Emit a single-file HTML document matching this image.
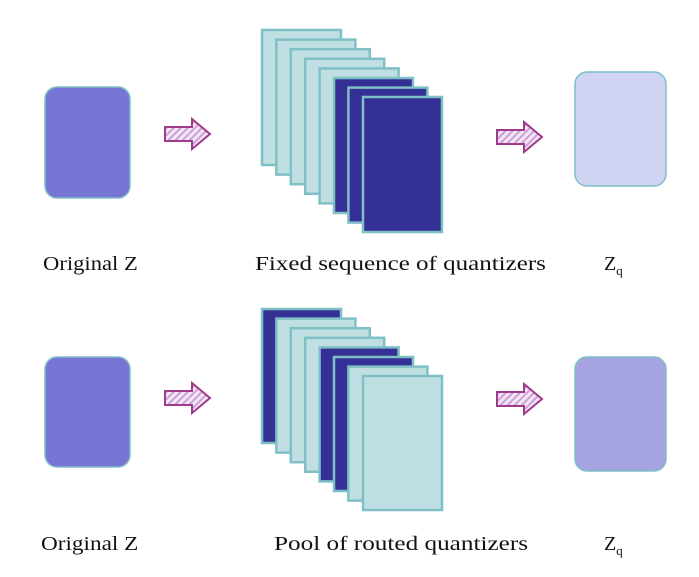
<!DOCTYPE html><html><head><style>
body{margin:0;background:#fff;width:699px;height:577px;overflow:hidden;position:relative;font-family:"Liberation Serif",serif;}
.t{position:absolute;font-size:20px;color:#111;white-space:nowrap;transform-origin:0 50%}
</style></head><body>
<svg width="699" height="577" style="position:absolute;left:0;top:0">
<defs><pattern id="h" width="5" height="5" patternUnits="userSpaceOnUse" patternTransform="rotate(45)"><rect width="5" height="5" fill="#f4e6f4"/><rect width="2" height="5" fill="#c9a0d8"/></pattern>
<g id="ar"><polygon points="0,6 27,6 27,-2 45,13 27,28 27,20 0,20" fill="url(#h)" stroke="#a03a8a" stroke-width="2"/></g></defs>
<rect x="45" y="87" width="85" height="111" rx="12" fill="#7775d3" stroke="#7fbfc6" stroke-width="1.5"/>
<rect x="45" y="357" width="85" height="110" rx="12" fill="#7775d3" stroke="#7fbfc6" stroke-width="1.5"/>
<rect x="575" y="72" width="91" height="114" rx="12" fill="#d1d3f2" stroke="#7fbfc6" stroke-width="1.5"/>
<rect x="575" y="357" width="91" height="114" rx="12" fill="#a5a3e1" stroke="#7fbfc6" stroke-width="1.5"/>
<use href="#ar" x="165" y="121"/><use href="#ar" x="497" y="124"/>
<use href="#ar" x="165" y="385"/><use href="#ar" x="497" y="386"/>
<g stroke="#7fbfc6" stroke-width="2.5">
<rect x="262" y="30" width="79" height="135" fill="#c0dfe2"/>
<rect x="276.4" y="39.6" width="79" height="135" fill="#c0dfe2"/>
<rect x="290.8" y="49.2" width="79" height="135" fill="#c0dfe2"/>
<rect x="305.2" y="58.8" width="79" height="135" fill="#c0dfe2"/>
<rect x="319.6" y="68.4" width="79" height="135" fill="#c0dfe2"/>
<rect x="334" y="78" width="79" height="135" fill="#353096"/>
<rect x="348.4" y="87.6" width="79" height="135" fill="#353096"/>
<rect x="363" y="97" width="79" height="135" fill="#353096"/>
<rect x="262" y="309" width="79" height="134" fill="#353096"/>
<rect x="276.4" y="318.6" width="79" height="134" fill="#c0dfe2"/>
<rect x="290.8" y="328.2" width="79" height="134" fill="#c0dfe2"/>
<rect x="305.2" y="337.8" width="79" height="134" fill="#c0dfe2"/>
<rect x="319.6" y="347.4" width="79" height="134" fill="#353096"/>
<rect x="334" y="357" width="79" height="134" fill="#353096"/>
<rect x="348.4" y="366.6" width="79" height="134" fill="#c0dfe2"/>
<rect x="363" y="376" width="79" height="134" fill="#c0dfe2"/>
</g></svg>
<div class="t" style="left:43px;top:253px;transform:scaleX(1.13)">Original Z</div>
<div class="t" style="left:255px;top:253px;transform:scaleX(1.25)">Fixed sequence of quantizers</div>
<div class="t" style="left:604px;top:253px">Z<sub style="font-size:13px">q</sub></div>
<div class="t" style="left:41px;top:533px;transform:scaleX(1.16)">Original Z</div>
<div class="t" style="left:274px;top:533px;transform:scaleX(1.26)">Pool of routed quantizers</div>
<div class="t" style="left:604px;top:533px">Z<sub style="font-size:13px">q</sub></div>
</body></html>
